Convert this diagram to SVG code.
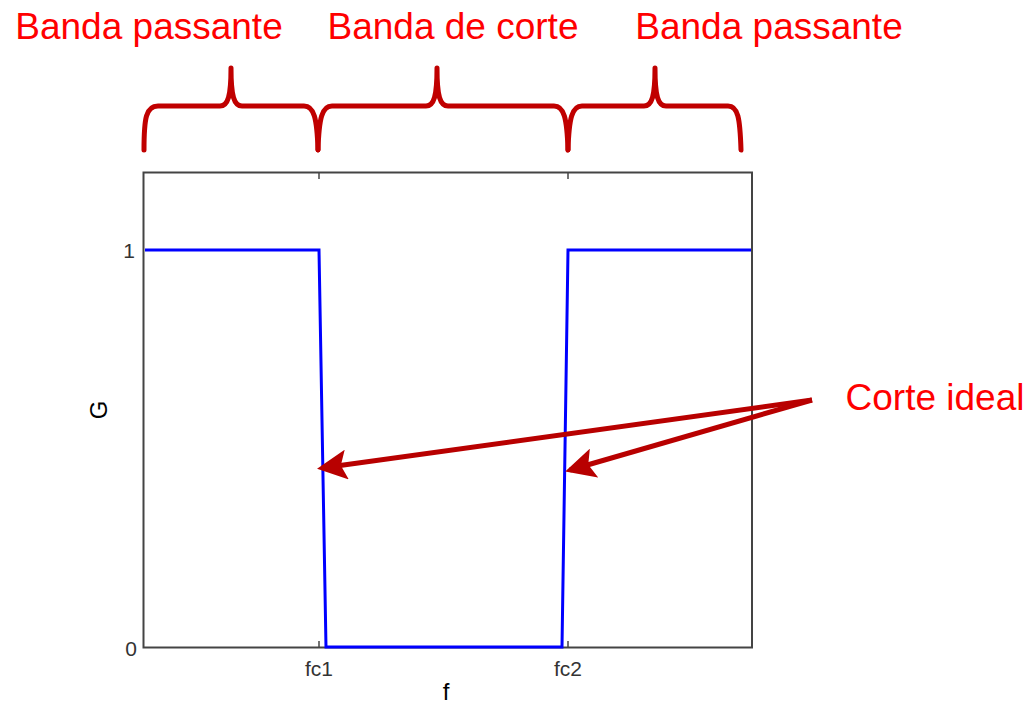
<svg xmlns="http://www.w3.org/2000/svg" width="1029" height="707" viewBox="0 0 1029 707">
<style>
.lbl{font-family:"Liberation Sans",Arial,sans-serif;fill:#ff0000;font-size:37px}
.tick{font-family:"Liberation Sans",Arial,sans-serif;fill:#333;font-size:21px}
.brace{fill:none;stroke:#c00000;stroke-width:5;stroke-linecap:round;stroke-linejoin:round}
.arr{stroke:#b80000;stroke-width:5;fill:none}
</style>
<defs>
<marker id="ah" markerWidth="6" markerHeight="6" refX="5" refY="3" orient="auto" markerUnits="strokeWidth">
<path d="M0,0 L6,3 L0,6 L1.2,3 Z" fill="#b80000"/>
</marker>
</defs>
<rect width="1029" height="707" fill="#fff"/>
<g id="labels">
<text class="lbl" x="149" y="39" text-anchor="middle">Banda passante</text>
<text class="lbl" x="453" y="39" text-anchor="middle">Banda de corte</text>
<text class="lbl" x="769" y="39" text-anchor="middle">Banda passante</text>
<text class="lbl" x="935" y="410" text-anchor="middle">Corte ideal</text>
</g>
<g id="braces">
<path class="brace" d="M144,150 C144,118 146,106 158,106 L220,106 C228,106 231,96 231,68 C231,96 234,106 242,106 L304,106 C314,106 317,118 318,150"/>
<path class="brace" d="M318,150 C319,118 322,106 332,106 L426,106 C434,106 437,96 437,68 C437,96 440,106 448,106 L554,106 C564,106 567,118 568,150"/>
<path class="brace" d="M568,150 C569,118 572,106 582,106 L644,106 C652,106 655,96 655,68 C655,96 658,106 666,106 L728,106 C738,106 740,118 741,150"/>
</g>
<g id="axes">
<rect x="143.5" y="172.5" width="608.5" height="475" fill="none" stroke="#444" stroke-width="2"/>
<line x1="319" y1="647" x2="319" y2="641" stroke="#444" stroke-width="1.5"/>
<line x1="568" y1="647" x2="568" y2="641" stroke="#444" stroke-width="1.5"/>
<line x1="319" y1="173" x2="319" y2="179" stroke="#444" stroke-width="1.5"/>
<line x1="568" y1="173" x2="568" y2="179" stroke="#444" stroke-width="1.5"/>
<text class="tick" x="319" y="676" text-anchor="middle">fc1</text>
<text class="tick" x="568" y="676" text-anchor="middle">fc2</text>
<text class="tick" x="135" y="258" text-anchor="end">1</text>
<text class="tick" x="137" y="656" text-anchor="end">0</text>
<text x="446" y="700" text-anchor="middle" font-family="Liberation Sans,Arial,sans-serif" font-size="24" fill="#000">f</text>
<text x="0" y="0" transform="translate(107,410) rotate(-90)" text-anchor="middle" font-family="Liberation Sans,Arial,sans-serif" font-size="24" fill="#000">G</text>
</g>
<g id="curve">
<polyline points="145,250 319,250 326,647 562,647 568,250 751,250" fill="none" stroke="#0000ff" stroke-width="3"/>
</g>
<g id="connectors">
<line class="arr" x1="812" y1="400" x2="322" y2="468" marker-end="url(#ah)"/>
<line class="arr" x1="812" y1="400" x2="570" y2="470" marker-end="url(#ah)"/>
</g>
</svg>
